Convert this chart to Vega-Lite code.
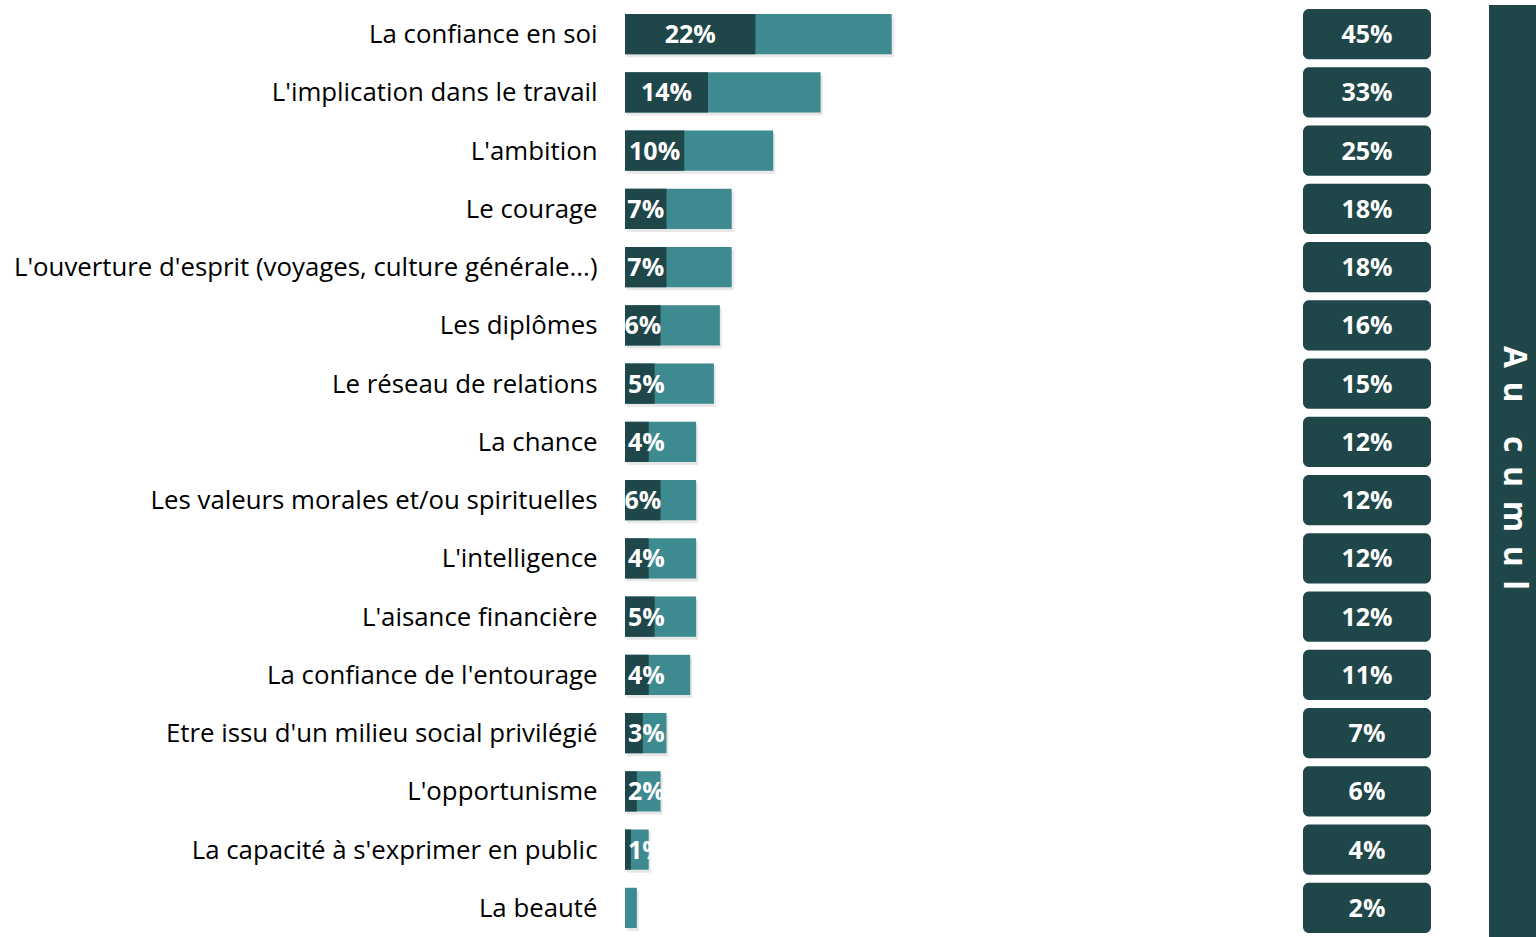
{
  "$schema": "https://vega.github.io/schema/vega-lite/v6.json",
  "padding": {"left": 5, "top": 5, "right": 0, "bottom": 0},
  "spacing": 58,
  "config": {"view": {"stroke": null}, "font": "Open Sans"},
  "data": {"values": [
    {"item": "La confiance en soi", "first": 0.22, "total": 0.45},
    {"item": "L'implication dans le travail", "first": 0.14, "total": 0.33},
    {"item": "L'ambition", "first": 0.10, "total": 0.25},
    {"item": "Le courage", "first": 0.07, "total": 0.18},
    {"item": "L'ouverture d'esprit (voyages, culture générale...)", "first": 0.07, "total": 0.18},
    {"item": "Les diplômes", "first": 0.06, "total": 0.16},
    {"item": "Le réseau de relations", "first": 0.05, "total": 0.15},
    {"item": "La chance", "first": 0.04, "total": 0.12},
    {"item": "Les valeurs morales et/ou spirituelles", "first": 0.06, "total": 0.12},
    {"item": "L'intelligence", "first": 0.04, "total": 0.12},
    {"item": "L'aisance financière", "first": 0.05, "total": 0.12},
    {"item": "La confiance de l'entourage", "first": 0.04, "total": 0.11},
    {"item": "Etre issu d'un milieu social privilégié", "first": 0.03, "total": 0.07},
    {"item": "L'opportunisme", "first": 0.02, "total": 0.06},
    {"item": "La capacité à s'exprimer en public", "first": 0.01, "total": 0.04},
    {"item": "La beauté", "first": 0, "total": 0.02}
  ]},
  "hconcat": [
    {
      "width": 620,
      "height": 932,
      "encoding": {
        "y": {"field": "item", "type": "nominal", "sort": null,
          "scale": {"paddingInner": 0.31, "paddingOuter": 0.155},
          "axis": {"title": null, "ticks": false, "domain": false, "labelFontSize": 25.8, "labelFont": "Open Sans", "labelColor": "#000000", "labelPadding": 28, "labelOffset": 1, "minExtent": 620, "maxExtent": 620, "labelLimit": 0}}
      },
      "layer": [
        {
          "mark": {"type": "bar", "color": "#b0b0b0", "opacity": 0.3, "xOffset": 2, "yOffset": 3},
          "encoding": {"x": {"field": "total", "type": "quantitative", "scale": {"domain": [0, 1.046], "nice": false}, "axis": null}}
        },
        {
          "mark": {"type": "bar", "color": "#3d8a90"},
          "encoding": {"x": {"field": "total", "type": "quantitative", "scale": {"domain": [0, 1.046], "nice": false}, "axis": null}}
        },
        {
          "mark": {"type": "bar", "color": "#1f4649"},
          "encoding": {"x": {"field": "first", "type": "quantitative", "scale": {"domain": [0, 1.046], "nice": false}, "axis": null}}
        },
        {
          "transform": [{"filter": "datum.first >= 0.06"}],
          "mark": {"type": "text", "color": "#ffffff", "fontWeight": "bold", "fontSize": 25, "align": "center", "baseline": "middle", "dy": 1, "font": "Open Sans"},
          "encoding": {
            "x": {"field": "first", "type": "quantitative", "scale": {"domain": [0, 2.092], "nice": false}, "axis": null},
            "text": {"field": "first", "type": "quantitative", "format": ".0%"}
          }
        },
        {
          "transform": [{"filter": "datum.first > 0 && datum.first < 0.06"}],
          "mark": {"type": "text", "color": "#ffffff", "fontWeight": "bold", "fontSize": 25, "align": "left", "baseline": "middle", "dx": 3, "dy": 1, "font": "Open Sans"},
          "encoding": {
            "x": {"datum": 0, "type": "quantitative", "scale": {"domain": [0, 1.046], "nice": false}, "axis": null},
            "text": {"field": "first", "type": "quantitative", "format": ".0%"}
          }
        }
      ],
      "resolve": {"scale": {"x": "independent"}}
    },
    {
      "width": 128,
      "height": 932,
      "encoding": {
        "y": {"field": "item", "type": "nominal", "sort": null,
          "scale": {"paddingInner": 0.14, "paddingOuter": 0.07}, "axis": null}
      },
      "layer": [
        {"mark": {"type": "rect", "color": "#1f4649", "cornerRadius": 6}},
        {
          "mark": {"type": "text", "color": "#ffffff", "fontWeight": "bold", "fontSize": 25, "align": "center", "baseline": "middle", "dy": 1, "font": "Open Sans"},
          "encoding": {"text": {"field": "total", "type": "quantitative", "format": ".0%"}}
        }
      ]
    },
    {
      "width": 47,
      "height": 932,
      "data": {"values": [{"label": "A\u00a0\u2009u\u00a0\u00a0\u00a0\u00a0c\u00a0\u2009u\u00a0\u2009m\u00a0\u2009u\u00a0\u2009l"}]},
      "layer": [
        {"mark": {"type": "rect", "color": "#1f4649"}, "encoding": {}},
        {
          "mark": {"type": "text", "color": "#ffffff", "fontWeight": "bold", "fontSize": 32, "angle": 90, "align": "center", "baseline": "middle", "dx": -3, "dy": -1, "font": "Open Sans"},
          "encoding": {"text": {"field": "label", "type": "nominal"}}
        }
      ]
    }
  ]
}
